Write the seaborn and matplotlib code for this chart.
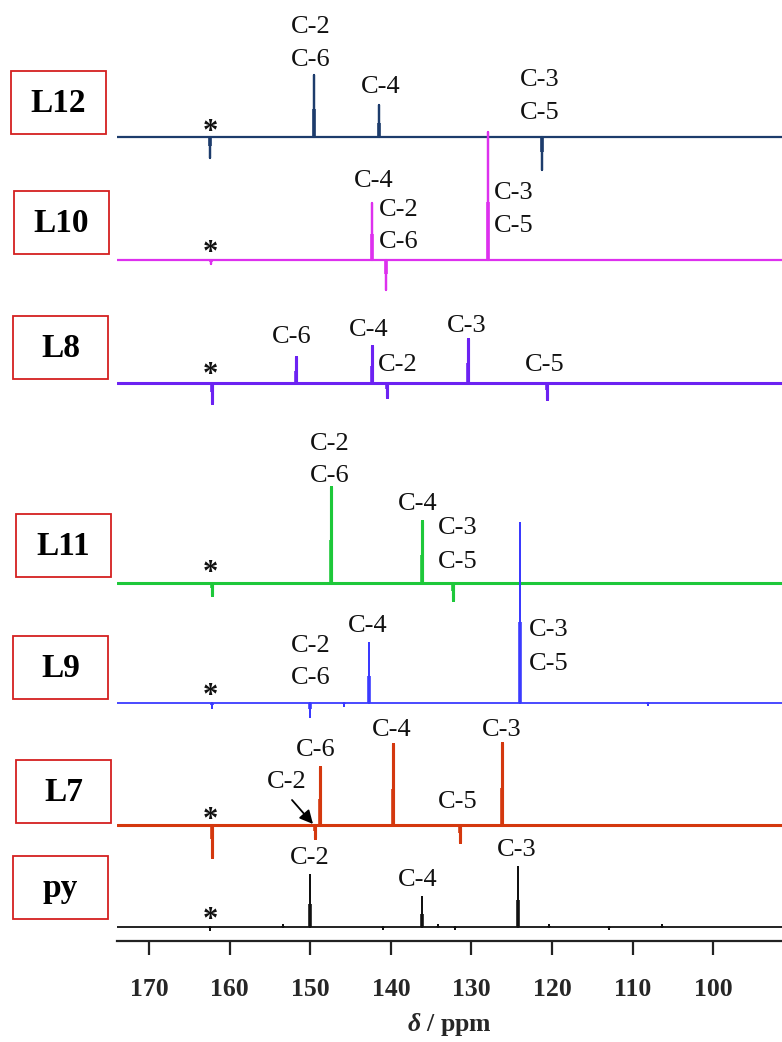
import numpy as np
import pandas as pd
import matplotlib
matplotlib.use("Agg")
import matplotlib.pyplot as plt
import seaborn as sns
from matplotlib.patches import Rectangle
from matplotlib.ticker import FixedLocator

# ---------------- data ----------------
spectra = ["L12", "L10", "L8", "L11", "L9", "L7", "py"]

L12_ppm = [162.4, 149.6, 141.5, 121.2]
L12_int = [-21, 62, 32, -33]
L10_ppm = [162.3, 142.3, 140.6, 128.0]
L10_int = [-4, 57, -30, 128]
L8_ppm = [162.2, 151.8, 142.3, 140.5, 130.4, 120.6]
L8_int = [-20, 26, 37, -14, 44, -16]
L11_ppm = [162.2, 147.4, 136.1, 132.3]
L11_int = [-12, 96, 62, -17]
L9_ppm = [162.2, 150.0, 145.8, 142.7, 124.0, 108.1]
L9_int = [-5, -14, -3, 60, 180, -2]
L7_ppm = [162.2, 149.4, 148.8, 139.8, 131.4, 126.2]
L7_int = [-32, -13, 58, 81, -17, 82]
py_ppm = [162.5, 153.4, 150.0, 141.0, 136.2, 134.1, 132.0, 124.2, 120.4, 112.9, 106.3]
py_int = [-3, 2, 52, -2, 30, 2, -2, 60, 2, -2, 2]

tick_values = [170, 160, 150, 140, 130, 120, 110, 100]
long_ticks = [150, 100]

peaks = {
    "L12": (L12_ppm, L12_int),
    "L10": (L10_ppm, L10_int),
    "L8": (L8_ppm, L8_int),
    "L11": (L11_ppm, L11_int),
    "L9": (L9_ppm, L9_int),
    "L7": (L7_ppm, L7_int),
    "py": (py_ppm, py_int),
}

# ---------------- layout / style ----------------
W, H = 782, 1042
AX_L, AX_R, AX_B = 117, 782, 941          # pixel frame of the axes
XMAX, XMIN = 174.0, 91.46                  # ppm (inverted axis)
baseline_px = {"L12": 137, "L10": 260, "L8": 383, "L11": 583, "L9": 703, "L7": 825, "py": 927}
colors = {"L12": "#1d3c6c", "L10": "#dd30ee", "L8": "#6c22f2", "L11": "#1ec83a",
          "L9": "#3a3aff", "L7": "#d4380e", "py": "#111111"}
base_lw = {"L12": 1.6, "L10": 1.6, "L8": 2.2, "L11": 2.2, "L9": 1.3, "L7": 2.2, "py": 1.3}

sns.set_theme(style="white")
plt.rcParams["font.family"] = ["Liberation Serif", "DejaVu Serif"]
plt.rcParams["mathtext.fontset"] = "custom"
plt.rcParams["mathtext.it"] = "Liberation Serif:italic:bold"
plt.rcParams["mathtext.rm"] = "Liberation Serif:bold"

fig = plt.figure(figsize=(W / 100, H / 100), dpi=100)
ax = fig.add_axes([AX_L / W, (H - AX_B) / H, (AX_R - AX_L) / W, AX_B / H])
ax.set_xlim(XMAX, XMIN)
ax.set_ylim(0, AX_B)


def offset(name):
    return AX_B - baseline_px[name]


# build stick-spectrum polylines
rows = []
for name in spectra:
    ppm, inten = peaks[name]
    b = offset(name)
    order = np.argsort(ppm)[::-1]
    seq = [(XMAX, b)]
    for i in order:
        p, h = ppm[i], inten[i]
        seq += [(p, b), (p, b + h), (p, b)]
    seq.append((XMIN, b))
    for k, (x, y) in enumerate(seq):
        rows.append({"spectrum": name, "ppm": x, "y": y, "k": k})
df = pd.DataFrame(rows)

for name in spectra:
    sub = df[df.spectrum == name]
    sns.lineplot(data=sub, x="ppm", y="y", sort=False, estimator=None,
                 color=colors[name], lw=base_lw[name], ax=ax, legend=False)
    ppm, inten = peaks[name]
    b = offset(name)
    ax.vlines(ppm, b, [b + 0.45 * h for h in inten], color=colors[name], lw=2.6)

ax.set_xlim(XMAX, XMIN)
ax.set_ylim(0, AX_B)

# axes styling
for s in ["left", "right", "top"]:
    ax.spines[s].set_visible(False)
ax.spines["bottom"].set_linewidth(1.6)
ax.spines["bottom"].set_color("#222222")
ax.set_yticks([])
ax.set_ylabel("")
ax.xaxis.set_major_locator(FixedLocator(tick_values))
ax.xaxis.set_minor_locator(FixedLocator(long_ticks))
ax.tick_params(axis="x", which="major", direction="out", length=10, width=1.6,
               color="#222222", pad=17, labelsize=18.5)
ax.tick_params(axis="x", which="minor", direction="out", length=18, width=1.6,
               color="#222222")
ax.xaxis.set_ticks_position("bottom")
for lab_ in ax.get_xticklabels():
    lab_.set_fontweight("bold")
ax.set_xlabel(r"$\it{\delta}$ / ppm", fontsize=18.5, fontweight="bold", labelpad=7)


def px2data(x, y):
    return XMAX - (x - AX_L) / (AX_R - AX_L) * (XMAX - XMIN), AX_B - y


def lab(x, y, s, size=19):
    dx, dy = px2data(x, y - 1.5)
    ax.text(dx, dy, s, ha="center", va="center", fontsize=size, color="#111111")


# peak labels
labels = [
    (311, 28, "C-2"), (311, 61, "C-6"), (381, 88, "C-4"), (540, 81, "C-3"), (540, 114, "C-5"),
    (374, 182, "C-4"), (399, 211, "C-2"), (399, 243, "C-6"), (514, 194, "C-3"), (514, 227, "C-5"),
    (292, 338, "C-6"), (369, 331, "C-4"), (398, 366, "C-2"), (467, 327, "C-3"), (545, 366, "C-5"),
    (330, 445, "C-2"), (330, 478, "C-6"), (418, 505, "C-4"), (458, 529, "C-3"), (458, 563, "C-5"),
    (311, 647, "C-2"), (311, 680, "C-6"), (368, 628, "C-4"), (549, 632, "C-3"), (549, 665, "C-5"),
    (316, 752, "C-6"), (287, 784, "C-2"), (392, 731, "C-4"), (502, 731, "C-3"), (458, 803, "C-5"),
    (310, 859, "C-2"), (418, 881, "C-4"), (517, 851, "C-3"),
]
for x, y, s in labels:
    lab(x, y, s)

# asterisks (solvent signal)
for y in [126, 247, 369, 567, 690, 814, 914]:
    dx, dy = px2data(210, y + 14)
    ax.text(dx, dy, "*", ha="center", va="baseline", fontsize=22, fontweight="bold",
            color="#111111")

# arrow for C-2 in L7
a0 = px2data(292, 800)
a1 = px2data(313, 824)
ax.annotate("", xy=a1, xytext=a0,
            arrowprops=dict(arrowstyle="-|>", color="black", lw=1.3, mutation_scale=20,
                            shrinkA=0, shrinkB=0))

# boxed sample names
boxes = {"L12": (11, 71), "L10": (14, 191), "L8": (13, 316), "L11": (16, 514),
         "L9": (13, 636), "L7": (16, 760), "py": (13, 856)}
BW, BH = 95, 63
for name, (x0, y0) in boxes.items():
    rect = Rectangle((x0 / W, 1 - (y0 + BH) / H), BW / W, BH / H, transform=fig.transFigure,
                     fill=False, edgecolor="#d42020", lw=1.3)
    fig.add_artist(rect)
    fig.text((x0 + BW / 2) / W, 1 - (y0 + BH / 2 + 1) / H, name, ha="center", va="center",
             fontsize=24, fontweight="bold", color="black")

fig.savefig("out.png", dpi=100)
